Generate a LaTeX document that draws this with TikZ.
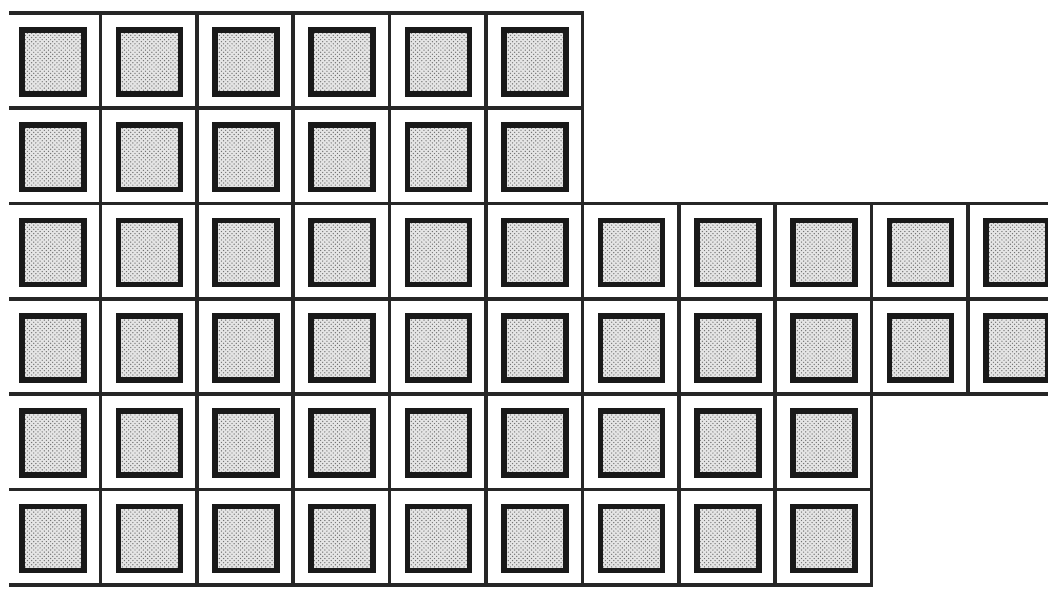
\documentclass[tikz,border=0pt]{standalone}
\usepackage{tikz}
\usetikzlibrary{patterns}

\begin{document}
\begin{tikzpicture}[
    x=0.025cm, y=-0.025cm,
    grid/.style={line width=2.6pt, black!85, line cap=rect},
    tile/.style={rectangle, draw=black!90, line width=4pt, minimum width=1.55cm, minimum height=1.6cm, inner sep=0pt, preaction={fill=black!10}, pattern=crosshatch dots, pattern color=black!55},
]
\useasboundingbox (0,0) rectangle (1048,588);

% tiles
\foreach \r in {0,1}
  \foreach \c in {0,...,5}
    \node[tile] (t-\r-\c) at ({53+96.4*\c},{62+95.3*\r}) {};
\foreach \r in {2,3}
  \foreach \c in {0,...,10}
    \node[tile] (t-\r-\c) at ({53+96.4*\c},{62+95.3*\r}) {};
\foreach \r in {4,5}
  \foreach \c in {0,...,8}
    \node[tile] (t-\r-\c) at ({53+96.4*\c},{62+95.3*\r}) {};

% horizontal rules
\foreach \y in {13,108.3}
  \draw[grid] (11,\y) -- (582.4,\y);
\foreach \y in {203.6,298.9,394.2}
  \draw[grid] (11,\y) -- (1060,\y);
\foreach \y in {489.5,584.8}
  \draw[grid] (11,\y) -- (871.6,\y);

% vertical rules
\foreach \c in {1,...,6}
  \draw[grid] ({4+96.4*\c},13) -- ({4+96.4*\c},584.8);
\foreach \c in {7,8,9}
  \draw[grid] ({4+96.4*\c},203.6) -- ({4+96.4*\c},584.8);
\draw[grid] ({4+96.4*10},203.6) -- ({4+96.4*10},394.2);
\end{tikzpicture}
\end{document}
